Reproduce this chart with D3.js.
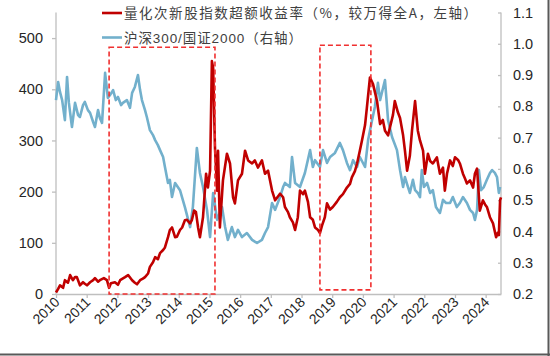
<!DOCTYPE html>
<html><head><meta charset="utf-8">
<script src="https://cdn.jsdelivr.net/npm/d3@7"></script>
<style>body{margin:0;background:#fff}svg{display:block}</style>
</head><body>
<svg id="c" width="550" height="356"></svg>
<script>
// ---- data ----
const yearTicks = [2010,2011,2012,2013,2014,2015,2016,2017,2018,2019,2020,2021,2022,2023,2024];
const leftTicks = [0,100,200,300,400,500];
const rightTicks = [0.2,0.3,0.4,0.5,0.6,0.7,0.8,0.9,1.0,1.1];
const redName = "量化次新股指数超额收益率（%，较万得全A，左轴）";
const blueName = "沪深300/国证2000（右轴）";

const redDates = [2010.00,2010.07,2010.13,2010.23,2010.29,2010.39,2010.46,2010.55,2010.62,2010.68,2010.78,2010.88,2010.94,2011.01,2011.11,2011.21,2011.27,2011.37,2011.43,2011.56,2011.66,2011.73,2011.79,2011.92,2012.02,2012.09,2012.25,2012.35,2012.48,2012.57,2012.64,2012.74,2012.83,2012.90,2013.00,2013.06,2013.16,2013.23,2013.32,2013.39,2013.49,2013.55,2013.65,2013.71,2013.78,2013.88,2013.94,2014.04,2014.11,2014.20,2014.27,2014.37,2014.43,2014.50,2014.56,2014.63,2014.69,2014.79,2014.89,2014.95,2015.02,2015.08,2015.12,2015.18,2015.25,2015.28,2015.34,2015.44,2015.57,2015.67,2015.77,2015.83,2015.93,2016.06,2016.16,2016.26,2016.39,2016.48,2016.58,2016.71,2016.81,2016.91,2017.04,2017.14,2017.30,2017.40,2017.46,2017.56,2017.62,2017.72,2017.79,2017.88,2017.95,2018.05,2018.11,2018.21,2018.28,2018.37,2018.44,2018.54,2018.60,2018.67,2018.76,2018.83,2018.93,2019.02,2019.15,2019.25,2019.35,2019.48,2019.58,2019.64,2019.74,2019.81,2019.90,2019.97,2020.07,2020.13,2020.23,2020.33,2020.39,2020.46,2020.56,2020.65,2020.72,2020.82,2020.88,2020.98,2021.04,2021.14,2021.21,2021.31,2021.37,2021.44,2021.53,2021.60,2021.70,2021.79,2021.86,2021.96,2022.02,2022.12,2022.19,2022.28,2022.41,2022.51,2022.61,2022.67,2022.74,2022.84,2022.93,2023.00,2023.10,2023.16,2023.26,2023.33,2023.39,2023.49,2023.59,2023.65,2023.72,2023.81,2023.91,2023.98,2024.04,2024.14,2024.24,2024.34,2024.40,2024.43,2024.47,2024.50];
const redValues = [3,10,17,12,27,22,37,27,33,33,17,23,20,17,23,27,31,24,27,31,27,12,21,23,18,27,33,37,27,22,19,27,30,33,40,53,62,72,68,80,86,91,111,125,130,111,112,125,130,144,145,138,145,163,160,130,111,150,235,208,241,455,442,286,202,280,130,222,274,255,189,177,222,235,280,261,255,261,247,261,235,241,202,183,196,189,170,160,150,140,125,150,202,195,202,180,150,145,130,125,119,134,150,177,165,170,180,189,195,208,215,228,240,255,280,300,330,364,423,410,395,377,332,340,319,310,325,350,377,355,344,310,280,241,270,319,377,319,300,280,235,274,260,255,267,235,247,202,235,261,250,267,262,255,235,225,216,222,208,235,245,163,183,175,170,150,138,111,120,115,183,189];

const blueDates = [2010.00,2010.07,2010.13,2010.20,2010.29,2010.36,2010.42,2010.52,2010.62,2010.72,2010.78,2010.88,2010.94,2011.04,2011.11,2011.21,2011.27,2011.37,2011.43,2011.50,2011.60,2011.69,2011.76,2011.86,2011.95,2012.02,2012.12,2012.18,2012.31,2012.41,2012.48,2012.57,2012.67,2012.74,2012.80,2012.90,2012.96,2013.06,2013.16,2013.23,2013.32,2013.39,2013.49,2013.55,2013.65,2013.71,2013.78,2013.88,2014.04,2014.20,2014.37,2014.46,2014.59,2014.69,2014.79,2014.92,2015.02,2015.12,2015.25,2015.41,2015.51,2015.60,2015.73,2015.83,2015.93,2016.06,2016.22,2016.39,2016.55,2016.71,2016.81,2016.91,2017.04,2017.14,2017.30,2017.40,2017.46,2017.62,2017.69,2017.79,2017.95,2018.11,2018.28,2018.37,2018.44,2018.60,2018.70,2018.83,2018.93,2019.09,2019.25,2019.35,2019.48,2019.58,2019.68,2019.81,2019.90,2020.07,2020.17,2020.30,2020.39,2020.49,2020.56,2020.72,2020.82,2020.95,2021.11,2021.21,2021.31,2021.37,2021.47,2021.53,2021.63,2021.70,2021.79,2021.86,2021.92,2021.99,2022.09,2022.19,2022.28,2022.38,2022.51,2022.61,2022.71,2022.84,2022.93,2023.06,2023.16,2023.26,2023.39,2023.49,2023.59,2023.65,2023.72,2023.78,2023.85,2023.94,2024.04,2024.14,2024.21,2024.30,2024.37,2024.43,2024.47];
const blueValues = [0.820,0.878,0.846,0.820,0.756,0.894,0.811,0.734,0.811,0.772,0.766,0.804,0.814,0.788,0.779,0.750,0.734,0.788,0.763,0.747,0.907,0.827,0.836,0.852,0.820,0.830,0.804,0.811,0.820,0.795,0.843,0.862,0.900,0.852,0.820,0.788,0.766,0.724,0.708,0.692,0.676,0.660,0.638,0.606,0.555,0.565,0.510,0.555,0.532,0.478,0.414,0.478,0.667,0.587,0.542,0.469,0.382,0.523,0.437,0.478,0.414,0.373,0.414,0.382,0.405,0.382,0.395,0.373,0.363,0.373,0.395,0.414,0.491,0.469,0.510,0.542,0.555,0.542,0.638,0.555,0.542,0.587,0.660,0.606,0.628,0.606,0.660,0.619,0.638,0.651,0.683,0.660,0.619,0.596,0.628,0.606,0.638,0.606,0.692,0.756,0.798,0.875,0.820,0.884,0.756,0.702,0.660,0.596,0.542,0.574,0.542,0.523,0.565,0.532,0.523,0.510,0.596,0.542,0.555,0.523,0.532,0.478,0.459,0.501,0.491,0.491,0.510,0.478,0.491,0.510,0.491,0.469,0.459,0.437,0.469,0.596,0.532,0.542,0.565,0.587,0.596,0.587,0.574,0.523,0.542];

// highlighted periods (year range, left-axis value range)
const boxStarts = [2011.73, 2018.60];
const boxEnds   = [2015.18, 2020.26];
const boxLows   = [0, 8];
const boxHighs  = [482, 486];

// ---- drawing ----
const svg = d3.select("#c");
const x = d3.scaleLinear().domain([2010, 2024.5]).range([56, 501]);
const yL = d3.scaleLinear().domain([0, 550]).range([294, 12.5]);
const yR = d3.scaleLinear().domain([0.2, 1.1]).range([294, 12.5]);
const axisCol = "#bfbfbf", textCol = "#262626";
const numFont = "'Liberation Sans', Arial, sans-serif";

// frame lines (right and bottom border)
svg.append("line").attr("x1",548.5).attr("x2",548.5).attr("y1",0).attr("y2",356).attr("stroke","#595959").attr("stroke-width",2);
svg.append("line").attr("x1",0).attr("x2",550).attr("y1",354.5).attr("y2",354.5).attr("stroke","#595959").attr("stroke-width",2);

// left axis
const gL = svg.append("g").attr("transform","translate(56,0)")
  .call(d3.axisLeft(yL).tickValues(leftTicks).tickSize(4).tickPadding(9).tickSizeOuter(0));
// right axis
const gR = svg.append("g").attr("transform","translate(501,0)")
  .call(d3.axisRight(yR).tickValues(rightTicks).tickSize(0).tickPadding(12).tickFormat(d3.format(".1f")).tickSizeOuter(0));
gR.selectAll(".tick").append("line").attr("x1",-3).attr("x2",0).attr("stroke",axisCol);
// bottom axis
const gB = svg.append("g").attr("transform","translate(0,294)")
  .call(d3.axisBottom(x).tickValues(yearTicks).tickFormat(d3.format("d")).tickSize(4).tickSizeOuter(0));
gB.selectAll("text").attr("text-anchor","end").attr("x",0).attr("y",0).attr("dy",0)
  .attr("transform","translate(4,9) rotate(-45)").style("font-size","14px");

[gL,gR,gB].forEach(g=>{
  g.select(".domain").attr("stroke",axisCol).attr("stroke-width",1.3);
  g.selectAll(".tick line").attr("stroke",axisCol).attr("stroke-width",1.3);
  g.selectAll("text").attr("fill",textCol).style("font-family",numFont);
});
gL.selectAll("text").style("font-size","14.5px");
gR.selectAll("text").style("font-size","14.5px");
// extend left & right axis lines to top
gL.select(".domain").attr("d","M0,12.5V294");
gR.select(".domain").attr("d","M0,12.5V294");

// lines
const blue = "#72b0cc", red = "#c00000";
const blueData = blueDates.map((d,i)=>[d, blueValues[i]]);
const redData = redDates.map((d,i)=>[d, redValues[i]]);
svg.append("path").datum(blueData).attr("fill","none").attr("stroke",blue).attr("stroke-width",2.6)
  .attr("stroke-linejoin","round").attr("d", d3.line().x(d=>x(d[0])).y(d=>yR(d[1])));
svg.append("path").datum(redData).attr("fill","none").attr("stroke",red).attr("stroke-width",2.6)
  .attr("stroke-linejoin","round").attr("d", d3.line().x(d=>x(d[0])).y(d=>yL(d[1])));

// dashed boxes
boxStarts.forEach((s,i)=>{
  svg.append("rect").attr("x",x(s)).attr("y",yL(boxHighs[i]))
    .attr("width",x(boxEnds[i])-x(s)).attr("height",yL(boxLows[i])-yL(boxHighs[i]))
    .attr("fill","none").attr("stroke","#f03030").attr("stroke-width",1.6).attr("stroke-dasharray","5,3");
});

// legend
const lg = svg.append("g");
lg.append("line").attr("x1",102).attr("x2",122).attr("y1",13).attr("y2",13).attr("stroke",red).attr("stroke-width",2.6);
lg.append("line").attr("x1",102).attr("x2",122).attr("y1",37.5).attr("y2",37.5).attr("stroke",blue).attr("stroke-width",2.6);
lg.append("text").attr("x",124).attr("y",18).text(redName)
  .attr("textLength",353).attr("lengthAdjust","spacing")
  .style("font-family","'Noto Sans CJK SC', 'Liberation Sans', sans-serif").style("font-size","13.5px").attr("fill","#404040");
lg.append("text").attr("x",124).attr("y",42.5).text(blueName)
  .attr("textLength",178).attr("lengthAdjust","spacing")
  .style("font-family","'Liberation Sans', 'Noto Sans CJK SC', sans-serif").style("font-size","13.5px").attr("fill","#404040");
</script>
</body></html>
